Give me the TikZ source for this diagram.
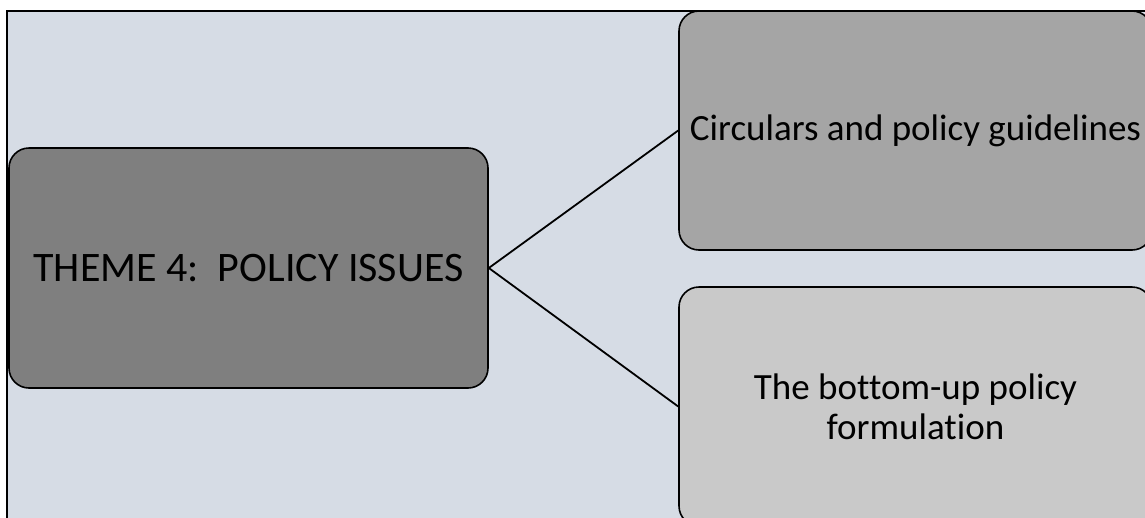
\documentclass[tikz,border=0pt]{standalone}
\usepackage{fontspec}
\setmainfont{Carlito}[Ligatures=NoCommon]
\definecolor{bgc}{HTML}{D6DCE5}
\definecolor{darkbox}{HTML}{7F7F7F}
\definecolor{midbox}{HTML}{A5A5A5}
\definecolor{lightbox}{HTML}{C9C9C9}
\tikzset{
  themebox/.style={draw=black, line width=1.6pt, rounded corners=20pt, inner sep=0pt, align=center, text=black},
  link/.style={draw=black, line width=1.8pt}
}
\begin{document}
\begin{tikzpicture}[x=1pt,y=-1pt]
\useasboundingbox (0,0) rectangle (1145,517);
\clip (0,0) rectangle (1145,517);
% background panel
\fill[bgc] (7,11) rectangle (1170,540);
\draw[line width=1.6pt] (7,540) -- (7,11) -- (1170,11);
% boxes
\node[themebox, fill=darkbox, minimum width=479pt, minimum height=240pt,
      font={\fontsize{42}{48}\selectfont}] (L) at (248.5,268)
  {THEME 4:\ \ POLICY ISSUES};
\node[themebox, fill=midbox, minimum width=473pt, minimum height=239pt,
      font={\fontsize{37}{42}\selectfont}] (T) at (915.5,130.5)
  {Circulars and policy guidelines};
\node[themebox, fill=lightbox, minimum width=473pt, minimum height=239pt,
      font={\fontsize{37}{40}\selectfont}] (B) at (915.5,406.5)
  {The bottom-up policy\\ formulation};
% connectors
\draw[link] (L.east) -- (T.west);
\draw[link] (L.east) -- (B.west);
\end{tikzpicture}
\end{document}
